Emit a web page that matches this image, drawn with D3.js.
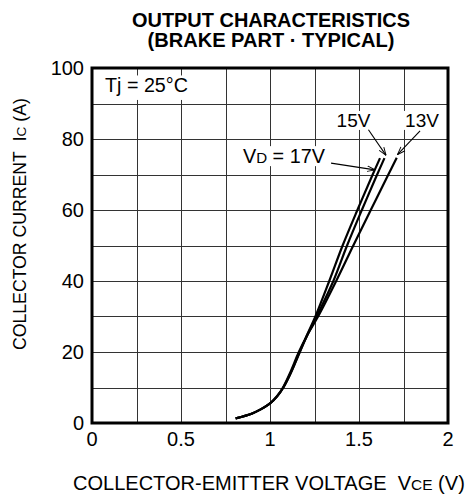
<!DOCTYPE html>
<html>
<head>
<meta charset="utf-8">
<script src="https://cdn.jsdelivr.net/npm/d3@7"></script>
<style>
	body { margin: 0; background: #fff; }
	svg { display: block; font-family: "Liberation Sans", Arial, sans-serif; }
</style>
</head>
<body>
<div id="chart"></div>
<script>
// Vce (V) vs Ic (A) for each gate drive voltage
const curve17V = [[0.807, 1.3], [0.9, 2.7], [0.95, 3.9], [1.0, 5.5], [1.04, 7.5], [1.075, 10], [1.12, 14.5],
	[1.168, 20], [1.21, 25], [1.255, 30], [1.333, 40], [1.408, 50], [1.491, 60], [1.577, 70], [1.618, 74.6]];
const curve15V = [[0.807, 1.3], [0.9, 2.7], [0.95, 3.9], [1.0, 5.5], [1.04, 7.5], [1.075, 10], [1.12, 14.4],
	[1.166, 20], [1.212, 25], [1.262, 30], [1.356, 40], [1.433, 50], [1.516, 60], [1.602, 70], [1.643, 74.6]];
const curve13V = [[0.807, 1.3], [0.9, 2.7], [0.95, 3.9], [1.0, 5.5], [1.04, 7.6], [1.073, 10], [1.117, 14.6],
	[1.162, 20], [1.212, 25], [1.27, 30], [1.372, 40], [1.468, 50], [1.566, 60], [1.665, 70], [1.712, 74.7]];
const series = [curve17V, curve15V, curve13V];

const xTicks = [0, 0.5, 1, 1.5, 2];
const yTicks = [0, 20, 40, 60, 80, 100];
const xGrid = [0.25, 0.5, 0.75, 1, 1.25, 1.5, 1.75];
const yGrid = [10, 20, 30, 40, 50, 60, 70, 80, 90];

// label text position + arrow (from -> to), in data units
const labels = [
	{main: "15V", sub: "", tail: "", x: 1.469, y: 83.4, from: [1.553, 82.6], to: [1.652, 75.4]},
	{main: "13V", sub: "", tail: "", x: 1.854, y: 83.4, from: [1.843, 82.3], to: [1.716, 75.6]},
	{main: "V", sub: "D", tail: " = 17V", x: 0.848, y: 73.2, from: [1.343, 73.2], to: [1.59, 71.3]}
];

const margin = {left: 92, right: 21, top: 68, bottom: 74};
const width = 469, height = 497;

const x = d3.scaleLinear().domain([0, 2]).range([margin.left, width - margin.right]);
const y = d3.scaleLinear().domain([0, 100]).range([height - margin.bottom, margin.top]);

const svg = d3.select("#chart").append("svg")
	.attr("width", width)
	.attr("height", height);

// resize a text element (and its tspans) so it spans a given width
function fit(sel, w) {
	const node = sel.node();
	const k = w / node.getComputedTextLength();
	sel.attr("font-size", (+sel.attr("font-size") * k).toFixed(2));
	sel.selectAll("tspan").filter(function () { return this.getAttribute("font-size"); })
		.attr("font-size", function () { return (+this.getAttribute("font-size") * k).toFixed(2); });
	return sel;
}

// title
const titles = [["OUTPUT CHARACTERISTICS", 278], ["(BRAKE PART · TYPICAL)", 247]];
svg.append("g")
	.attr("font-weight", "bold")
	.attr("text-anchor", "middle")
	.selectAll("text")
	.data(titles).enter()
	.append("text")
	.attr("font-size", 18)
	.attr("x", 271)
	.attr("y", (d, i) => 27 + i * 20)
	.text(d => d[0])
	.each(function (d) { fit(d3.select(this), d[1]); });

// grid
const grid = svg.append("g").attr("stroke", "#333").attr("stroke-width", 1).attr("shape-rendering", "crispEdges");
grid.selectAll(".gx").data(xGrid).enter().append("line")
	.attr("x1", d => Math.round(x(d)) + 0.5).attr("x2", d => Math.round(x(d)) + 0.5)
	.attr("y1", y(100)).attr("y2", y(0));
grid.selectAll(".gy").data(yGrid).enter().append("line")
	.attr("y1", d => Math.round(y(d)) + 0.5).attr("y2", d => Math.round(y(d)) + 0.5)
	.attr("x1", x(0)).attr("x2", x(2));

// white box behind Tj label
svg.append("rect")
	.attr("x", x(0)).attr("y", y(97.9))
	.attr("width", x(0.6) - x(0)).attr("height", y(91) - y(97.9))
	.attr("fill", "#fff");

const annot = svg.append("g");
labels.forEach(l => {
	const t = annot.append("text")
		.attr("font-size", 19)
		.attr("x", x(l.x)).attr("y", y(l.y))
		.attr("text-anchor", l.sub ? "start" : "middle")
		.text(l.main);
	if (l.sub) {
		t.append("tspan").attr("font-size", 14.5).text(l.sub);
		t.append("tspan").text(l.tail);
		fit(t, 82);
	}
	const bb = t.node().getBBox();
	annot.insert("rect", "text")
		.attr("x", bb.x - 2).attr("y", bb.y + 1)
		.attr("width", bb.width + 4).attr("height", bb.height - 2)
		.attr("fill", "#fff");
});

// arrows
svg.append("defs").append("marker")
	.attr("id", "arrow")
	.attr("viewBox", "0 0 10 10")
	.attr("refX", 10).attr("refY", 5)
	.attr("markerWidth", 8).attr("markerHeight", 8)
	.attr("markerUnits", "userSpaceOnUse")
	.attr("orient", "auto")
	.append("path")
	.attr("d", "M0,1.5 L10,5 L0,8.5")
	.attr("fill", "none")
	.attr("stroke", "#000")
	.attr("stroke-width", 1.2);

svg.append("g").selectAll("line")
	.data(labels).enter()
	.append("line")
	.attr("x1", d => x(d.from[0])).attr("y1", d => y(d.from[1]))
	.attr("x2", d => x(d.to[0])).attr("y2", d => y(d.to[1]))
	.attr("stroke", "#000").attr("stroke-width", 1.1)
	.attr("marker-end", "url(#arrow)");

// Tj label
fit(svg.append("text")
	.attr("x", 105).attr("y", y(93.2))
	.attr("font-size", 19)
	.text("Tj = 25°C"), 83);

// curves
const line = d3.line()
	.x(d => x(d[0]))
	.y(d => y(d[1]))
	.curve(d3.curveCatmullRom);

svg.append("g").selectAll("path")
	.data(series).enter()
	.append("path")
	.attr("d", line)
	.attr("fill", "none")
	.attr("stroke", "#000")
	.attr("stroke-width", 2.2);

// frame
svg.append("rect")
	.attr("x", x(0)).attr("y", y(100))
	.attr("width", x(2) - x(0)).attr("height", y(0) - y(100))
	.attr("fill", "none").attr("stroke", "#000").attr("stroke-width", 3);

// tick labels
svg.append("g").attr("font-size", 20).attr("text-anchor", "middle")
	.selectAll("text").data(xTicks).enter()
	.append("text")
	.attr("x", d => x(d)).attr("y", y(0) + 23)
	.text(d => d);

svg.append("g").attr("font-size", 20).attr("text-anchor", "end")
	.selectAll("text").data(yTicks).enter()
	.append("text")
	.attr("x", x(0) - 8).attr("y", d => y(d) + 7)
	.text(d => d);

// axis titles
const xt = svg.append("text")
	.attr("x", 73).attr("y", 490)
	.attr("font-size", 17.5)
	.text("COLLECTOR-EMITTER VOLTAGE\u00a0\u00a0V");
xt.append("tspan").attr("font-size", 13.5).text("CE");
xt.append("tspan").text(" (V)");
fit(xt, 392);

const yt = svg.append("text")
	.attr("transform", "translate(26,350) rotate(-90)")
	.attr("font-size", 17.5)
	.text("COLLECTOR CURRENT\u00a0\u00a0I");
yt.append("tspan").attr("font-size", 13.5).text("C");
yt.append("tspan").text(" (A)");
fit(yt, 252);
</script>
</body>
</html>
